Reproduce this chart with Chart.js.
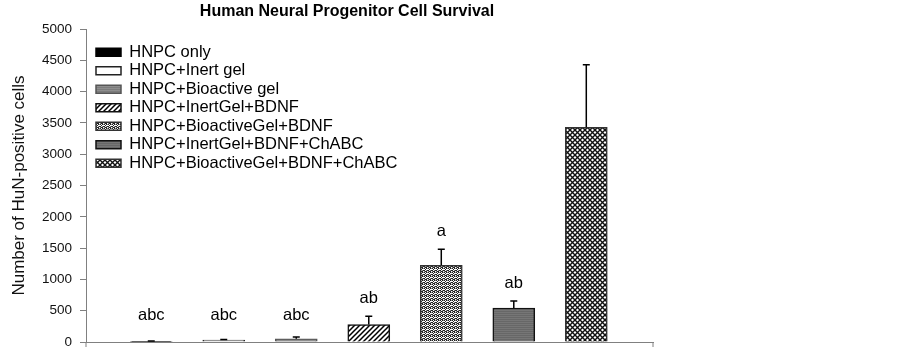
<!DOCTYPE html>
<html>
<head>
<meta charset="utf-8">
<script src="https://cdn.jsdelivr.net/npm/chart.js@4/dist/chart.umd.min.js"></script>
<style>
  html, body { margin: 0; padding: 0; background: #fff; }
  #wrap { width: 903px; height: 350px; position: relative; }
</style>
</head>
<body>
<div id="wrap"><canvas id="survivalChart"></canvas></div>
<script>
const categories = [
  'HNPC only',
  'HNPC+Inert gel',
  'HNPC+Bioactive gel',
  'HNPC+InertGel+BDNF',
  'HNPC+BioactiveGel+BDNF',
  'HNPC+InertGel+BDNF+ChABC',
  'HNPC+BioactiveGel+BDNF+ChABC',
];
const cellCounts = [10, 30, 52, 278, 1225, 543, 3430];
const errorUpper = [6, 10, 26, 132, 255, 112, 1000];
const letters = ['abc', 'abc', 'abc', 'ab', 'a', 'ab', ''];
const letterFloor = 430;
const yTicks = [0, 500, 1000, 1500, 2000, 2500, 3000, 3500, 4000, 4500, 5000];

function makePattern(size, paint) {
  const c = document.createElement('canvas');
  c.width = size;
  c.height = size;
  const g = c.getContext('2d');
  paint(g, size);
  return g.createPattern(c, 'repeat');
}

const stripes = (base, line) => makePattern(2, (g) => {
  g.fillStyle = base;
  g.fillRect(0, 0, 2, 2);
  g.fillStyle = line;
  g.fillRect(0, 1, 2, 1);
});

const hatch = makePattern(5, (g, s) => {
  g.fillStyle = '#fff';
  g.fillRect(0, 0, s, s);
  g.strokeStyle = '#000';
  g.lineWidth = 1.5;
  g.beginPath();
  g.moveTo(-1, s + 1); g.lineTo(s + 1, -1);
  g.moveTo(-1, 1); g.lineTo(1, -1);
  g.moveTo(s - 1, s + 1); g.lineTo(s + 1, s - 1);
  g.stroke();
});

// dithered grey, roughly half dark pixels
const stipple = makePattern(4, (g) => {
  g.fillStyle = '#fff';
  g.fillRect(0, 0, 4, 4);
  g.fillStyle = '#222';
  [[0, 0], [2, 0], [1, 1], [3, 2], [0, 2], [2, 3], [1, 3]].forEach(([px, py]) => g.fillRect(px, py, 1, 1));
  g.fillStyle = '#888';
  [[3, 0], [2, 2], [0, 3]].forEach(([px, py]) => g.fillRect(px, py, 1, 1));
});

const diamonds = makePattern(5, (g, s) => {
  g.fillStyle = '#fff';
  g.fillRect(0, 0, s, s);
  g.strokeStyle = '#111';
  g.lineWidth = 1.4;
  g.beginPath();
  g.moveTo(0, 0); g.lineTo(s, s);
  g.moveTo(s, 0); g.lineTo(0, s);
  g.stroke();
});

const fills = ['#000', '#fff', stripes('#8e8e8e', '#7c7c7c'), hatch, stipple, stripes('#767676', '#676767'), diamonds];
const borders = ['#000', '#222', '#555', '#111', '#333', '#111', '#333'];

const datasets = categories.map((name, i) => ({
  label: name,
  data: [{ x: i + 1, y: cellCounts[i] }],
  backgroundColor: fills[i],
  borderColor: borders[i],
  borderWidth: 1.5,
  barThickness: 42,
  grouped: false,
}));

const extras = {
  id: 'extras',
  afterLayout(chart) {
    const legend = chart.legend;
    const area = chart.chartArea;
    const w = legend.width;
    const h = legend.height;
    legend.left = area.left + 8;
    legend.top = area.top + 13;
    legend.right = legend.left + w;
    legend.bottom = legend.top + h;
  },
  afterDatasetsDraw(chart) {
    const { ctx, chartArea } = chart;
    const x = chart.scales.x;
    const y = chart.scales.y;
    ctx.save();
    ctx.strokeStyle = '#000';
    ctx.lineWidth = 1.5;
    cellCounts.forEach((v, i) => {
      const cx = x.getPixelForValue(i + 1);
      const top = y.getPixelForValue(v + errorUpper[i]);
      ctx.beginPath();
      ctx.moveTo(cx, y.getPixelForValue(v));
      ctx.lineTo(cx, top);
      ctx.moveTo(cx - 3.5, top);
      ctx.lineTo(cx + 3.5, top);
      ctx.stroke();
      if (letters[i]) {
        ctx.fillStyle = '#000';
        ctx.font = '16.5px "Liberation Sans", Arial, sans-serif';
        ctx.textAlign = 'center';
        ctx.textBaseline = 'middle';
        const ly = Math.min(top - 18, y.getPixelForValue(letterFloor));
        ctx.fillText(letters[i], cx, ly);
      }
    });
    // small end ticks on the category axis
    ctx.strokeStyle = '#808080';
    ctx.lineWidth = 1;
    ctx.beginPath();
    ctx.moveTo(chartArea.left, chartArea.bottom);
    ctx.lineTo(chartArea.left, chartArea.bottom + 5);
    ctx.moveTo(chartArea.right, chartArea.bottom);
    ctx.lineTo(chartArea.right, chartArea.bottom + 5);
    ctx.stroke();
    ctx.restore();
  },
  afterDraw(chart) {
    const { ctx } = chart;
    ctx.save();
    ctx.fillStyle = '#000';
    ctx.font = 'bold 16px "Liberation Sans", Arial, sans-serif';
    ctx.textAlign = 'center';
    ctx.textBaseline = 'middle';
    ctx.fillText('Human Neural Progenitor Cell Survival', 347, 12);
    ctx.restore();
  },
};

Chart.defaults.font.family = '"Liberation Sans", Arial, sans-serif';
Chart.defaults.color = '#000';

new Chart(document.getElementById('survivalChart'), {
  type: 'bar',
  data: { datasets },
  plugins: [extras],
  options: {
    responsive: true,
    maintainAspectRatio: false,
    animation: false,
    layout: { padding: { top: 29, right: 250, bottom: 8, left: 0 } },
    plugins: {
      title: { display: false },
      tooltip: { enabled: false },
      legend: {
        position: 'chartArea',
        align: 'start',
        labels: {
          boxWidth: 25,
          boxHeight: 8,
          padding: 2,
          font: { size: 16.5 },
          color: '#000',
        },
      },
    },
    scales: {
      x: {
        type: 'linear',
        offset: false,
        min: 0.1,
        max: 7.92,
        grid: { display: false },
        ticks: { display: false },
        border: { color: '#808080', width: 1 },
        afterFit: (s) => { s.height = 0; },
      },
      y: {
        min: 0,
        max: 5000,
        afterBuildTicks: (s) => { s.ticks = yTicks.map((v) => ({ value: v })); },
        afterFit: (s) => { s.width = 86; s.paddingBottom = 0; s.paddingTop = 0; },
        grid: { drawOnChartArea: false, tickLength: 6, color: '#808080' },
        border: { color: '#808080', width: 1 },
        ticks: { padding: 8, font: { size: 13.5 }, color: '#111', callback: (v) => String(v) },
        title: {
          display: true,
          text: 'Number of HuN-positive cells',
          font: { size: 17 },
          padding: { top: 9 },
          color: '#111',
        },
      },
    },
  },
});
</script>
</body>
</html>
